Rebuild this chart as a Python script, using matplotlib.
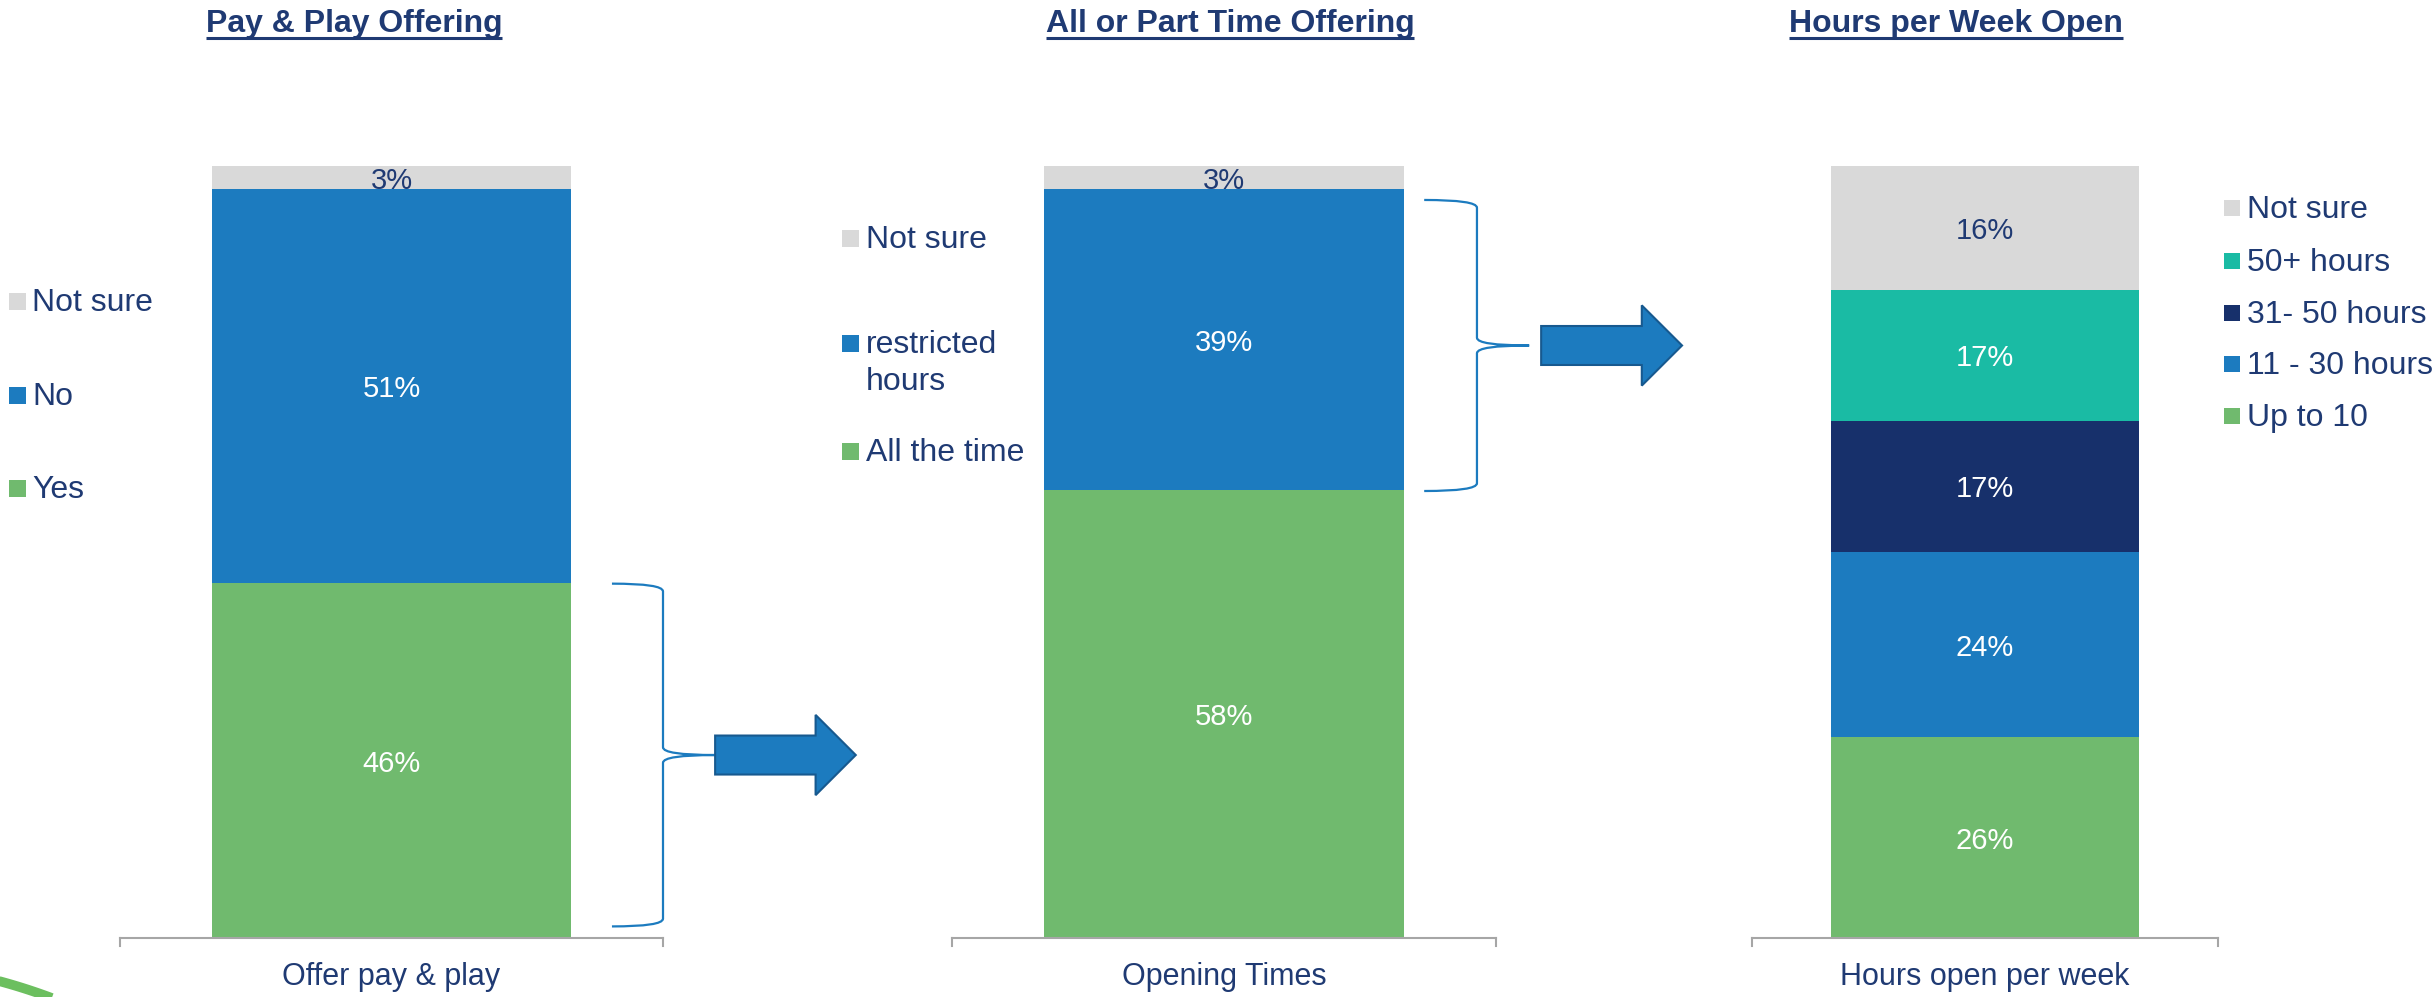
import matplotlib as mpl
mpl.use('Agg')
import matplotlib.pyplot as plt
from matplotlib.patches import FancyArrow, PathPatch, Rectangle
from matplotlib.path import Path
import numpy as np

plt.rcParams['font.family'] = ['Liberation Sans', 'DejaVu Sans']

TEXT = '#1F3A73'
GREY = '#D9D9D9'
BLUE = '#1C7BBF'
GREEN = '#70BA6E'
TEAL = '#1ABBA4'
NAVY = '#17306B'
AXIS = '#A6A6A6'

# pay & play offering (bottom to top)
pp_labels = ['Yes', 'No', 'Not sure']
pp_values = [46, 51, 3]
pp_colors = [GREEN, BLUE, GREY]

# all or part time offering
ot_labels = ['All the time', 'restricted\nhours', 'Not sure']
ot_values = [58, 39, 3]
ot_colors = [GREEN, BLUE, GREY]

# hours per week open
hw_labels = ['Up to 10', '11 - 30 hours', '31- 50 hours', '50+ hours', 'Not sure']
hw_values = [26, 24, 17, 17, 16]
hw_colors = [GREEN, BLUE, NAVY, TEAL, GREY]

titles = ['Pay & Play Offering', 'All or Part Time Offering', 'Hours per Week Open']
categories = ['Offer pay & play', 'Opening Times', 'Hours open per week']

W, H = 2436, 997
fig = plt.figure(figsize=(W / 100, H / 100), dpi=100)

# overlay in pixel units for titles, legends and decoration
over = fig.add_axes([0, 0, 1, 1])
over.set_xlim(0, W)
over.set_ylim(H, 0)
over.axis('off')


def make_axes(left, right, top=166, bottom=938):
    ax = fig.add_axes([left / W, (H - bottom) / H, (right - left) / W, (bottom - top) / H])
    ax.set_xlim(-0.5, 0.5)
    ax.set_ylim(0, 100)
    ax.axis('off')
    ax.patch.set_alpha(0)
    return ax


def stacked(ax, values, colors, category):
    bottoms = np.concatenate([[0], np.cumsum(values)[:-1]])
    for v, b, c in zip(values, bottoms, colors):
        ax.bar(0, v, bottom=b, width=0.66, color=c, edgecolor='none')
        tc = TEXT if c == GREY else 'white'
        ax.text(0, b + v / 2 - 0.4, '%d%%' % v, ha='center', va='center',
                fontsize=21, color=tc)
    # baseline with end ticks
    ax.plot([-0.5, 0.5], [0, 0], color=AXIS, lw=1.5, clip_on=False)
    for x in (-0.5, 0.5):
        ax.plot([x, x], [0, -1.1], color=AXIS, lw=1.5, clip_on=False)
    ax.text(0, -5.0, category, ha='center', va='center', fontsize=22, color=TEXT)
    return bottoms


def brace(ax, xl, xv, xt, y0, y1, r=1.0):
    ym = (y0 + y1) / 2
    verts = [(xl, y1), (xv, y1), (xv, y1 - r),
             (xv, ym + r), (xv, ym), (xt, ym),
             (xv, ym), (xv, ym - r),
             (xv, y0 + r), (xv, y0), (xl, y0)]
    codes = [Path.MOVETO, Path.CURVE3, Path.CURVE3,
             Path.LINETO, Path.CURVE3, Path.CURVE3,
             Path.CURVE3, Path.CURVE3,
             Path.LINETO, Path.CURVE3, Path.CURVE3]
    ax.add_patch(PathPatch(Path(verts, codes), fc='none', ec=BLUE, lw=1.6,
                           clip_on=False))
    return ym


def arrow(ax, x0, x1, y):
    ax.add_patch(FancyArrow(x0, y, x1 - x0, 0, width=5.05, head_width=10.4,
                            head_length=0.074, length_includes_head=True,
                            fc=BLUE, ec='#17598F', lw=1.5, clip_on=False))


def legend(items, xm, xt, size=16):
    for label, color, y in items:
        over.add_patch(Rectangle((xm, y - size / 2), size, size, fc=color, ec='none'))
        first = label.split('\n')[0]
        over.text(xt, y + 2, first, ha='left', va='center', fontsize=23, color=TEXT)
        for k, extra in enumerate(label.split('\n')[1:]):
            over.text(xt, y + 2 + 37 * (k + 1), extra, ha='left', va='center',
                      fontsize=23, color=TEXT)


ax1 = make_axes(120, 663)
ax2 = make_axes(952, 1496)
ax3 = make_axes(1752, 2218)

stacked(ax1, pp_values, pp_colors, categories[0])
stacked(ax2, ot_values, ot_colors, categories[1])
stacked(ax3, hw_values, hw_colors, categories[2])

# "Yes" share carried into the opening-times panel
ym = brace(ax1, 0.406, 0.5, 0.596, 1.5, pp_values[0] - 0.1)
arrow(ax1, 0.596, 0.855, ym)

# restricted hours carried into the hours-per-week panel
ym = brace(ax2, 0.368, 0.465, 0.561, ot_values[0] - 0.1, ot_values[0] + ot_values[1] - 1.4)
arrow(ax2, 0.583, 0.842, ym)

legend(list(zip(pp_labels[::-1], pp_colors[::-1], [301, 395, 488])), 9, 32, size=17)
legend(list(zip(ot_labels[::-1], ot_colors[::-1], [238, 343, 451])), 842, 866, size=17)
legend(list(zip(hw_labels[::-1], hw_colors[::-1], [208, 261, 313, 364, 416])), 2224, 2247)

# underlined panel titles
fig.canvas.draw()
renderer = fig.canvas.get_renderer()
inv = over.transData.inverted()
for cx, t in zip([354, 1230, 1956], titles):
    txt = over.text(cx, 32, t, ha='center', va='baseline', fontsize=23,
                    fontweight='bold', color=TEXT)
    bb = txt.get_window_extent(renderer)
    (x0, _), (x1, _) = inv.transform([(bb.x0, bb.y0), (bb.x1, bb.y0)])
    over.plot([x0, x1], [38, 38], color=TEXT, lw=2.2, solid_capstyle='butt')

# green swoosh in the corner
sx = np.linspace(-5, 60, 30)
sy = 980 + 0.26 * (sx + 5) + 0.001 * (sx + 5) ** 2
over.plot(sx, sy, color='#6CBF5F', lw=7, solid_capstyle='butt', clip_on=False)

fig.savefig('out.png', dpi=100)
